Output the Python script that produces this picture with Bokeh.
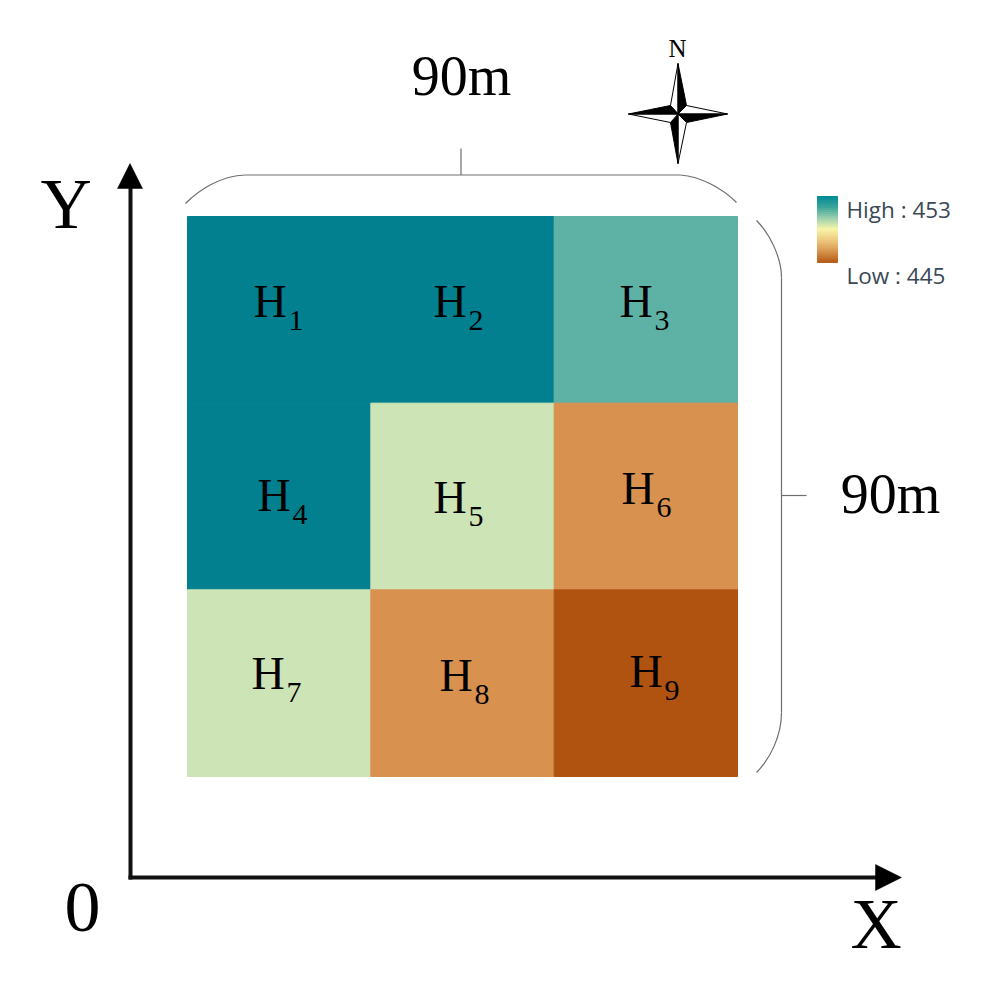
from bokeh.plotting import figure
from bokeh.models import ColumnDataSource, Range1d
from bokeh.core.properties import value
from bokeh.embed import file_html
from bokeh.resources import INLINE

# Nine plots of a 90 m x 90 m field, three per row, north row first
cell_names = ["1", "2", "3", "4", "5", "6", "7", "8", "9"]
cell_cols = [0, 1, 2, 0, 1, 2, 0, 1, 2]
cell_rows = [2, 2, 2, 1, 1, 1, 0, 0, 0]
cell_values = [453, 453, 452, 453, 449, 447, 449, 447, 445]
value_colors = {453: "#028090", 452: "#5EB2A5", 449: "#CCE4B6", 447: "#D8914F", 445: "#B05311"}
cell_size_m = 30

label_x_px = [253, 433, 619, 257, 433, 621, 251, 439, 629]
label_y_px = [318, 318, 318, 512, 514, 505, 690, 692, 688]

legend_stops = ["#028C96", "#3FA79B", "#9DD0AE", "#F6F4A8", "#EFCB80", "#D99A52", "#B9601C"]
legend_high, legend_low = 453, 445

W, H = 987, 974
X0, X1 = 187.0, 737.0
Y0, Y1 = 776.0, 216.0
sx = (X1 - X0) / 90.0
sy = (Y0 - Y1) / 90.0


def mx(px):
    return (px - X0) / sx


def my(py):
    return (Y0 - py) / sy


p = figure(width=W, height=H, output_backend="svg", toolbar_location=None,
           x_range=Range1d(mx(0), mx(W)), y_range=Range1d(my(H), my(0)),
           min_border=0, outline_line_color=None, background_fill_color="white",
           border_fill_color="white")
p.axis.visible = False
p.grid.visible = False

src = ColumnDataSource(dict(
    left=[c * cell_size_m for c in cell_cols],
    right=[(c + 1) * cell_size_m for c in cell_cols],
    bottom=[r * cell_size_m for r in cell_rows],
    top=[(r + 1) * cell_size_m for r in cell_rows],
    color=[value_colors[v] for v in cell_values],
))
p.quad(left="left", right="right", bottom="bottom", top="top", fill_color="color",
       line_color="color", line_width=1, source=src)

SERIF = value("Liberation Serif")


def label(px, py, s, size, align="left", weight="normal", color="black", font=SERIF):
    p.text(x=[mx(px)], y=[my(py - 0.37 * size)], text=[s], text_font=font,
           text_font_size=value(f"{size}px"), text_align=align, text_baseline="alphabetic",
           text_color=color, text_font_style=weight)


for nm, lx, ly in zip(cell_names, label_x_px, label_y_px):
    label(lx, ly, "H", 46)
    label(lx + 35, ly + 13, nm, 30)

# axes
ox, oy = 130, 877
p.segment(x0=[mx(ox), mx(ox)], y0=[my(oy), my(oy)], x1=[mx(880), mx(ox)], y1=[my(oy), my(185)],
          line_color="#111111", line_width=4, line_cap="square")
p.patch(x=[mx(875), mx(901), mx(875)], y=[my(864), my(877), my(890)], fill_color="black", line_color="black", line_width=0.5)
p.patch(x=[mx(117), mx(129.5), mx(142)], y=[my(188), my(163), my(188)], fill_color="black", line_color="black", line_width=0.5)

label(40, 230, "Y", 71)
label(850, 950, "X", 71)
label(64, 934, "0", 72)
label(461, 96, "90m", 56, "center")
label(890, 514, "90m", 56, "center")


def curve(a, c1, c2, b):
    p.bezier(x0=[mx(a[0])], y0=[my(a[1])], x1=[mx(b[0])], y1=[my(b[1])],
             cx0=[mx(c1[0])], cy0=[my(c1[1])], cx1=[mx(c2[0])], cy1=[my(c2[1])],
             line_color="#6E6E6E", line_width=1.2)


def seg(a, b):
    p.line(x=[mx(a[0]), mx(b[0])], y=[my(a[1]), my(b[1])], line_color="#6E6E6E", line_width=1.2)


curve((185, 203), (198, 190), (220, 175), (245, 174.5))
seg((245, 174.5), (680, 174.5))
curve((680, 174.5), (700, 176), (722, 188), (736, 202))
seg((460.5, 148), (460.5, 174.5))
curve((756, 220), (770, 234), (781, 258), (781, 277))
seg((781, 277), (781, 712))
curve((781, 712), (781, 735), (770, 758), (756, 772))
seg((781, 495), (806, 495))

# north arrow
cx, cy = 677.5, 113.5
tips = [(cx, 63), (727, cy), (cx, 163), (628, cy)]
inner = [(686, 105), (686, 122), (670, 122), (670, 105)]
for i, tip in enumerate(tips):
    black_sh = inner[i]
    white_sh = inner[(i - 1) % 4]
    p.patch(x=[mx(tip[0]), mx(white_sh[0]), mx(cx)], y=[my(tip[1]), my(white_sh[1]), my(cy)],
            fill_color="white", line_color="black", line_width=1)
    p.patch(x=[mx(tip[0]), mx(black_sh[0]), mx(cx)], y=[my(tip[1]), my(black_sh[1]), my(cy)],
            fill_color="black", line_color="black", line_width=1)
label(677, 57, "N", 25, "center")

# colour ramp legend
n = len(legend_stops)
bar_top, bar_bot = 196.0, 262.0
stops_hex = [tuple(int(c[i:i + 2], 16) for i in (1, 3, 5)) for c in legend_stops]
ramp_steps = 33
ramp = []
for k in range(ramp_steps):
    t = k / (ramp_steps - 1) * (n - 1)
    j = min(int(t), n - 2)
    f = t - j
    ramp.append("#%02X%02X%02X" % tuple(round(a + (b - a) * f) for a, b in zip(stops_hex[j], stops_hex[j + 1])))
dy = (bar_bot - bar_top) / ramp_steps
p.quad(left=[mx(817)] * ramp_steps, right=[mx(837)] * ramp_steps,
       top=[my(bar_top + k * dy) for k in range(ramp_steps)],
       bottom=[my(bar_top + (k + 1) * dy) for k in range(ramp_steps)],
       fill_color=ramp, line_color=ramp, line_width=1)
SANS = value("Open Sans")
label(846, 217, f"High : {legend_high}", 22.5, color="#3A4856", font=SANS)
label(846, 283, f"Low : {legend_low}", 22.5, color="#3A4856", font=SANS)

open("out.html", "w").write(file_html(p, INLINE))
